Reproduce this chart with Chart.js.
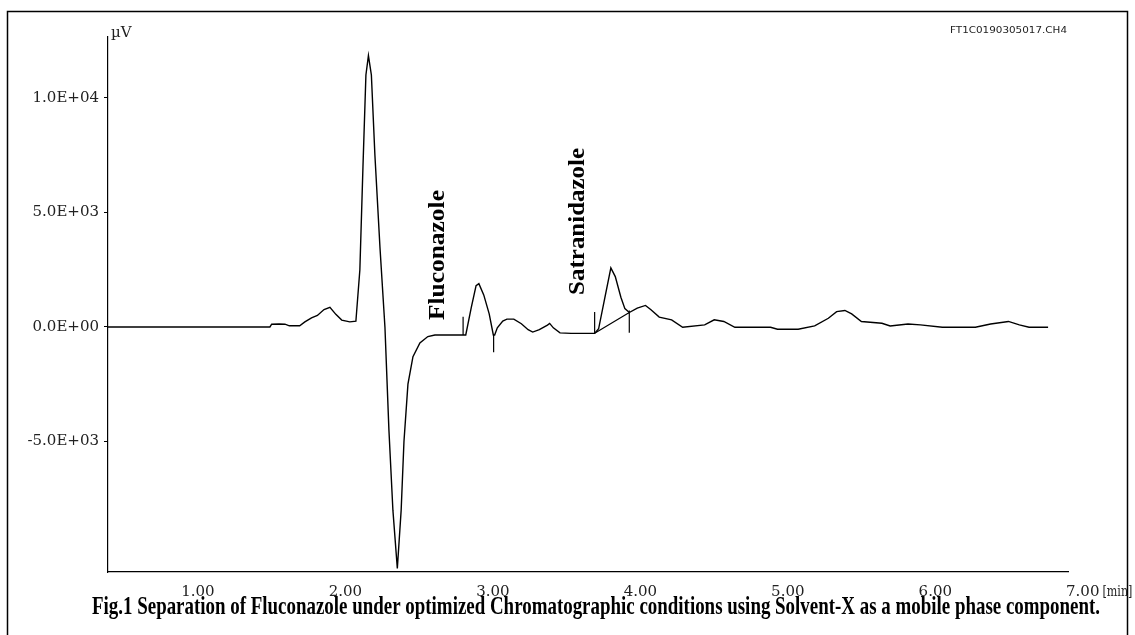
<!DOCTYPE html>
<html>
<head>
<meta charset="utf-8">
<script src="https://cdn.jsdelivr.net/npm/chart.js@4.4.1/dist/chart.umd.min.js"></script>
<style>
html,body{margin:0;padding:0;background:#fff;}
#wrap{width:1135px;height:635px;}
</style>
</head>
<body>
<div id="wrap"><canvas id="c" width="1135" height="635"></canvas></div>
<script>
// ---- data (time in min, signal in µV) ----
const times = [0.39,1.488,1.50,1.55,1.59,1.62,1.69,1.725,1.77,1.81,1.855,1.895,1.935,1.975,2.03,2.071,2.098,2.119,2.139,2.156,2.176,2.20,2.234,2.268,2.295,2.322,2.352,2.378,2.397,2.424,2.458,2.505,2.559,2.607,2.816,2.854,2.886,2.905,2.938,2.975,3.003,3.012,3.03,3.067,3.095,3.142,3.193,3.239,3.27,3.315,3.37,3.385,3.41,3.455,3.53,3.69,3.717,3.757,3.80,3.83,3.868,3.895,3.925,3.979,4.035,4.072,4.128,4.212,4.287,4.436,4.501,4.566,4.641,4.883,4.930,5.070,5.182,5.275,5.331,5.387,5.433,5.499,5.638,5.694,5.815,5.899,6.048,6.272,6.375,6.496,6.570,6.636,6.765];
const signal = [0,0,120,130,120,50,50,220,400,500,760,860,550,300,220,250,2500,7000,11000,11850,11000,7500,3500,0,-4500,-8000,-10550,-8000,-5000,-2500,-1300,-700,-420,-350,-350,870,1800,1890,1400,570,-350,-350,-40,260,340,340,140,-120,-225,-120,80,155,-40,-260,-280,-280,-80,1200,2580,2200,1300,800,630,820,940,750,430,310,-15,90,310,240,-15,-15,-100,-100,45,380,670,720,570,240,160,45,130,90,-15,-15,130,240,90,-15,-15];

// integration marks (null = break)
const markTimes  = [2.798,2.798,null,3.005,3.005,null,3.69,3.69,null,3.69,3.925,null,3.925,3.925];
const markValues = [-350,450,null,-350,-1100,null,-280,650,null,-280,630,null,720,-250];

// peak names
const peakNames  = ['Fluconazole','Satranidazole'];
const peakLabelTimes  = [2.63, 3.58];
const peakLabelValues = [300, 1400];

// axes
const xTickValues = [1,2,3,4,5,6,7];
const xTickLabels = ['1.00','2.00','3.00','4.00','5.00','6.00','7.00'];
const yTickValues = [-5000,0,5000,10000];
const yTickLabels = ['-5.0E+03','0.0E+00','5.0E+03','1.0E+04'];

const yUnit = 'µV';
const xUnit = '[min]';
const fileTag = 'FT1C0190305017.CH4';
const caption = 'Fig.1 Separation of Fluconazole under optimized Chromatographic conditions using Solvent-X as a mobile phase component.';

// ---- build ----
const X_MIN = 0.39, X_MAX = 6.9;
const mainPts = times.map((t,i)=>({x:t,y:signal[i]}));
const markPts = markTimes.map((t,i)=>({x:t,y:markValues[i]}));

const tickFamily = '"DejaVu Serif", serif';
const tickFont = {family:tickFamily, size:15};

const decor = {
  id:'decor',
  beforeDraw(chart){
    const ctx = chart.ctx;
    ctx.save();
    ctx.fillStyle = '#fff';
    ctx.fillRect(0,0,chart.width,chart.height);
    ctx.strokeStyle = '#000';
    ctx.lineWidth = 1.5;
    ctx.strokeRect(7.5,11.5,1120,640);
    ctx.restore();
  },
  afterDraw(chart){
    const ctx = chart.ctx;
    const xs = chart.scales.x, ys = chart.scales.y;
    const area = chart.chartArea;
    ctx.save();
    ctx.fillStyle = '#222';
    // unit on y
    ctx.font = '15px ' + tickFamily;
    ctx.textAlign = 'left'; ctx.textBaseline = 'bottom';
    ctx.fillText(yUnit, area.left + 3, area.top + 4);
    // ticks beyond axis end (7.00) + [min]
    const labelY = area.bottom + 11 + 9;
    ctx.textBaseline = 'middle';
    xTickValues.forEach((v,i)=>{
      if (v > X_MAX) {
        const px = xs.getPixelForValue(v);
        ctx.textAlign = 'center';
        ctx.fillText(xTickLabels[i], px, labelY);
      }
    });
    const lastPx = xs.getPixelForValue(xTickValues[xTickValues.length-1]);
    const lw = ctx.measureText(xTickLabels[xTickLabels.length-1]).width;
    ctx.textAlign = 'left';
    const uw = ctx.measureText(xUnit).width;
    ctx.save();
    ctx.translate(lastPx + lw/2 + 3, labelY);
    ctx.scale(30/uw, 1);
    ctx.fillText(xUnit, 0, 0);
    ctx.restore();
    // file tag
    ctx.font = '8px "DejaVu Sans", sans-serif';
    ctx.textBaseline = 'middle';
    const w0 = ctx.measureText(fileTag).width;
    ctx.save();
    ctx.translate(950, 31);
    ctx.scale(117/w0, 1);
    ctx.fillText(fileTag, 0, 0);
    ctx.restore();
    // caption
    ctx.font = 'bold 26px "Liberation Serif", serif';
    const cw = ctx.measureText(caption).width;
    ctx.save();
    ctx.translate(92, 607);
    ctx.scale(1008/cw, 1);
    ctx.textBaseline = 'middle';
    ctx.fillStyle = '#000';
    ctx.fillText(caption, 0, 0);
    ctx.restore();
    // peak names (rotated, condensed)
    ctx.font = 'bold 23px "Liberation Serif", serif';
    ctx.fillStyle = '#000';
    const lens = [130, 147];
    peakNames.forEach((n,i)=>{
      const px = xs.getPixelForValue(peakLabelTimes[i]);
      const py = ys.getPixelForValue(peakLabelValues[i]);
      const w = ctx.measureText(n).width;
      ctx.save();
      ctx.translate(px, py);
      ctx.rotate(-Math.PI/2);
      ctx.scale(lens[i]/w, 1);
      ctx.textAlign = 'left'; ctx.textBaseline = 'middle';
      ctx.fillText(n, 0, 0);
      ctx.restore();
    });
    ctx.restore();
  }
};

new Chart(document.getElementById('c'), {
  type:'line',
  data:{
    datasets:[
      {data:mainPts, borderColor:'#000', borderWidth:1.4, pointRadius:0, tension:0, fill:false, spanGaps:false},
      {data:markPts, borderColor:'#000', borderWidth:1.2, pointRadius:0, tension:0, fill:false, spanGaps:false}
    ]
  },
  options:{
    responsive:false,
    animation:false,
    devicePixelRatio:1,
    events:[],
    layout:{padding:{left:0, top:37, right:67, bottom:0}},
    plugins:{legend:{display:false}, tooltip:{enabled:false}, title:{display:false}},
    scales:{
      x:{
        type:'linear', min:X_MIN, max:X_MAX, position:'bottom',
        grid:{display:false, drawTicks:false},
        border:{display:true, color:'#000', width:1.2},
        ticks:{font:tickFont, color:'#222', padding:11, maxRotation:0, autoSkip:false,
          callback:(v)=>{const i=xTickValues.indexOf(v); return i>=0?xTickLabels[i]:'';}},
        afterBuildTicks:(s)=>{s.ticks = xTickValues.filter(v=>v>=X_MIN && v<=X_MAX).map(v=>({value:v}));},
        afterFit:(s)=>{s.height = 63;}
      },
      y:{
        type:'linear', min:-10700, max:12660,
        grid:{display:true, drawOnChartArea:false, drawTicks:true, tickLength:4, color:'#000', lineWidth:1},
        border:{display:true, color:'#000', width:1.2},
        ticks:{font:tickFont, color:'#222', padding:5, autoSkip:false,
          callback:(v)=>{const i=yTickValues.indexOf(v); return i>=0?yTickLabels[i]:'';}},
        afterBuildTicks:(s)=>{s.ticks = yTickValues.map(v=>({value:v}));},
        afterFit:(s)=>{s.width = 108;}
      }
    }
  },
  plugins:[decor]
});
</script>
</body>
</html>
